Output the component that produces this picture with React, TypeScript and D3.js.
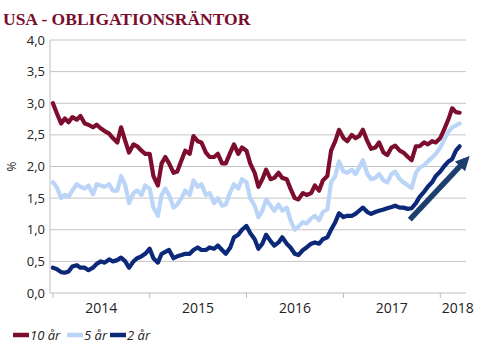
import React from 'react';
import * as d3 from 'd3';

// ==== data (semi-monthly readings, 1st and 15th, Jan 2014 - Mar 2018)

const obsDates = d3.range(102).map((i) => new Date(2014, Math.floor(i / 2), i % 2 === 0 ? 1 : 15));

const tenYear = [
  3.00, 2.85, 2.68, 2.76, 2.70, 2.78, 2.74, 2.80, 2.68, 2.66, 2.62, 2.66,
  2.60, 2.56, 2.52, 2.45, 2.38, 2.62, 2.40, 2.22, 2.35, 2.32, 2.25, 2.20,
  2.20, 1.85, 1.70, 2.05, 2.15, 2.05, 1.90, 1.92, 2.10, 2.25, 2.20, 2.48,
  2.40, 2.38, 2.22, 2.15, 2.15, 2.20, 2.05, 2.05, 2.22, 2.35, 2.20, 2.30,
  2.25, 2.05, 1.90, 1.68, 1.80, 1.95, 1.80, 1.82, 1.90, 1.82, 1.80, 1.65,
  1.50, 1.48, 1.58, 1.55, 1.58, 1.70, 1.62, 1.78, 1.85, 2.25, 2.40, 2.58,
  2.45, 2.40, 2.50, 2.45, 2.48, 2.58, 2.40, 2.28, 2.30, 2.38, 2.22, 2.18,
  2.30, 2.33, 2.25, 2.22, 2.15, 2.10, 2.32, 2.32, 2.38, 2.35, 2.40, 2.38,
  2.45, 2.58, 2.75, 2.92, 2.86, 2.85
];

const fiveYear = [
  1.75, 1.68, 1.50, 1.55, 1.52, 1.62, 1.72, 1.68, 1.65, 1.70, 1.56, 1.72,
  1.70, 1.68, 1.72, 1.62, 1.62, 1.85, 1.70, 1.42, 1.58, 1.62, 1.55, 1.70,
  1.65, 1.35, 1.22, 1.55, 1.65, 1.55, 1.35, 1.40, 1.50, 1.62, 1.55, 1.78,
  1.68, 1.72, 1.55, 1.58, 1.42, 1.50, 1.38, 1.40, 1.60, 1.72, 1.65, 1.80,
  1.75, 1.50, 1.38, 1.20, 1.30, 1.48, 1.38, 1.30, 1.40, 1.30, 1.35, 1.15,
  1.00, 1.05, 1.12, 1.10, 1.18, 1.22, 1.15, 1.28, 1.32, 1.75, 1.85, 2.08,
  1.92, 1.90, 1.95, 1.88, 1.98, 2.10, 1.88, 1.80, 1.82, 1.88, 1.78, 1.75,
  1.88, 1.92, 1.80, 1.75, 1.70, 1.66, 1.90, 1.98, 2.02, 2.08, 2.14, 2.20,
  2.30, 2.42, 2.55, 2.62, 2.65, 2.68
];

const twoYear = [
  0.40, 0.38, 0.33, 0.32, 0.34, 0.42, 0.44, 0.40, 0.40, 0.36, 0.40, 0.46,
  0.50, 0.48, 0.53, 0.50, 0.52, 0.56, 0.50, 0.40, 0.50, 0.55, 0.58, 0.62,
  0.70, 0.55, 0.48, 0.62, 0.65, 0.68, 0.55, 0.58, 0.60, 0.62, 0.62, 0.68,
  0.72, 0.68, 0.68, 0.72, 0.70, 0.75, 0.68, 0.62, 0.72, 0.88, 0.92, 1.00,
  1.06, 0.95, 0.85, 0.70, 0.78, 0.92, 0.82, 0.75, 0.80, 0.88, 0.78, 0.72,
  0.62, 0.60, 0.68, 0.72, 0.78, 0.80, 0.78, 0.85, 0.88, 1.00, 1.12, 1.26,
  1.20, 1.22, 1.22, 1.25, 1.30, 1.35, 1.28, 1.25, 1.28, 1.30, 1.32, 1.34,
  1.36, 1.38, 1.35, 1.35, 1.33, 1.34, 1.42, 1.52, 1.60, 1.68, 1.75, 1.85,
  1.92, 2.00, 2.08, 2.12, 2.25, 2.32
];

const seriesNames = ['10 år', '5 år', '2 år'];
const seriesColors = ['#7d0d2e', '#bad5f8', '#0c2878'];

const yTicks = [0, 0.5, 1, 1.5, 2, 2.5, 3, 3.5, 4];
const yearTicks = [2014, 2015, 2016, 2017, 2018].map((y) => new Date(y, 0, 1));
const yearLabels = ['2014', '2015', '2016', '2017', '2018'];
const yearLabelDates = [new Date(2014, 6, 2), new Date(2015, 6, 2), new Date(2016, 6, 2), new Date(2017, 6, 2), new Date(2018, 2, 8)];

// trend arrow (annotation), in date / percent terms
const arrowFrom = { date: new Date(2017, 8, 8), value: 1.16 };
const arrowTo = { date: new Date(2018, 3, 7), value: 2.1 };

// ====

const sv = d3.formatLocale({ decimal: ',', thousands: ' ', grouping: [3], currency: ['', ''] });
const fmt = sv.format('.1f');

const W = 488;
const H = 358;
const plot = { left: 50, right: 466, top: 40, bottom: 293 };

const x = d3.scaleTime()
  .domain([new Date(2013, 11, 21), new Date(2018, 3, 8)])
  .range([plot.left, plot.right]);

const y = d3.scaleLinear()
  .domain([0, 4])
  .range([plot.bottom, plot.top]);

const line = d3.line<number>()
  .x((_, i) => x(obsDates[i]))
  .y((d) => y(d))
  .curve(d3.curveLinear);

const allSeries = [tenYear, fiveYear, twoYear];
const sans = '"Open Sans", "Noto Sans", sans-serif';

export default function App() {
  const ax1 = x(arrowFrom.date);
  const ay1 = y(arrowFrom.value);
  const ax2 = x(arrowTo.date);
  const ay2 = y(arrowTo.value);

  return (
    <svg width={W} height={H} style={{ position: 'absolute', left: 0, top: 0, background: '#fff' }}>
      <defs>
        <marker id="head" viewBox="0 0 10 10" refX="6" refY="5" markerWidth="2.6" markerHeight="2.6" orient="auto" markerUnits="strokeWidth">
          <path d="M0,0 L10,5 L0,10 z" fill="#1c3f6e" />
        </marker>
      </defs>

      <text x={3} y={25} fontFamily='"Liberation Serif", "DejaVu Serif", serif' fontWeight="bold" fontSize={17.5} fill="#7a0c2c">
        USA - OBLIGATIONSRÄNTOR
      </text>

      {/* grid */}
      {yTicks.filter((t) => t > 0).map((t) => (
        <line key={t} x1={plot.left} x2={plot.right} y1={y(t)} y2={y(t)} stroke="#c4c4c4" strokeWidth={1} />
      ))}
      <line x1={plot.left} x2={plot.left} y1={plot.top} y2={plot.bottom} stroke="#bdbdbd" />
      <line x1={plot.left} x2={plot.right} y1={plot.bottom} y2={plot.bottom} stroke="#bdbdbd" />

      {yTicks.map((t) => (
        <text key={t} x={45} y={y(t) + 4.5} textAnchor="end" fontFamily={sans} fontSize={13} fill="#222">
          {fmt(t)}
        </text>
      ))}
      <text transform={`translate(16,${(plot.top + plot.bottom) / 2}) rotate(-90)`} textAnchor="middle" fontFamily={sans} fontSize={12} fill="#222">
        %
      </text>

      {yearTicks.map((d, i) => (
        <line key={i} x1={x(d)} x2={x(d)} y1={plot.bottom} y2={plot.bottom + 5} stroke="#bdbdbd" />
      ))}
      {yearLabels.map((lab, i) => (
        <text key={lab} x={x(yearLabelDates[i])} y={313} textAnchor="middle" fontFamily={sans} fontSize={14} fill="#222">
          {lab}
        </text>
      ))}

      {/* series */}
      {allSeries.map((s, i) => (
        <path key={i} d={line(s) || ''} fill="none" stroke={seriesColors[i]} strokeWidth={4.2} strokeLinejoin="round" strokeLinecap="round" />
      ))}

      {/* arrow */}
      <line x1={ax1} y1={ay1} x2={ax2} y2={ay2} stroke="#1c3f6e" strokeWidth={5.5} markerEnd="url(#head)" />

      {/* legend */}
      {seriesNames.map((name, i) => {
        const lx = [13, 67, 110][i];
        return (
          <g key={name} transform={`translate(${lx},335)`}>
            <line x1={0} x2={16} y1={0} y2={0} stroke={seriesColors[i]} strokeWidth={4.5} />
            <text x={17} y={5} fontFamily={sans} fontStyle="italic" fontSize={13} fill="#222">{name}</text>
          </g>
        );
      })}
    </svg>
  );
}
